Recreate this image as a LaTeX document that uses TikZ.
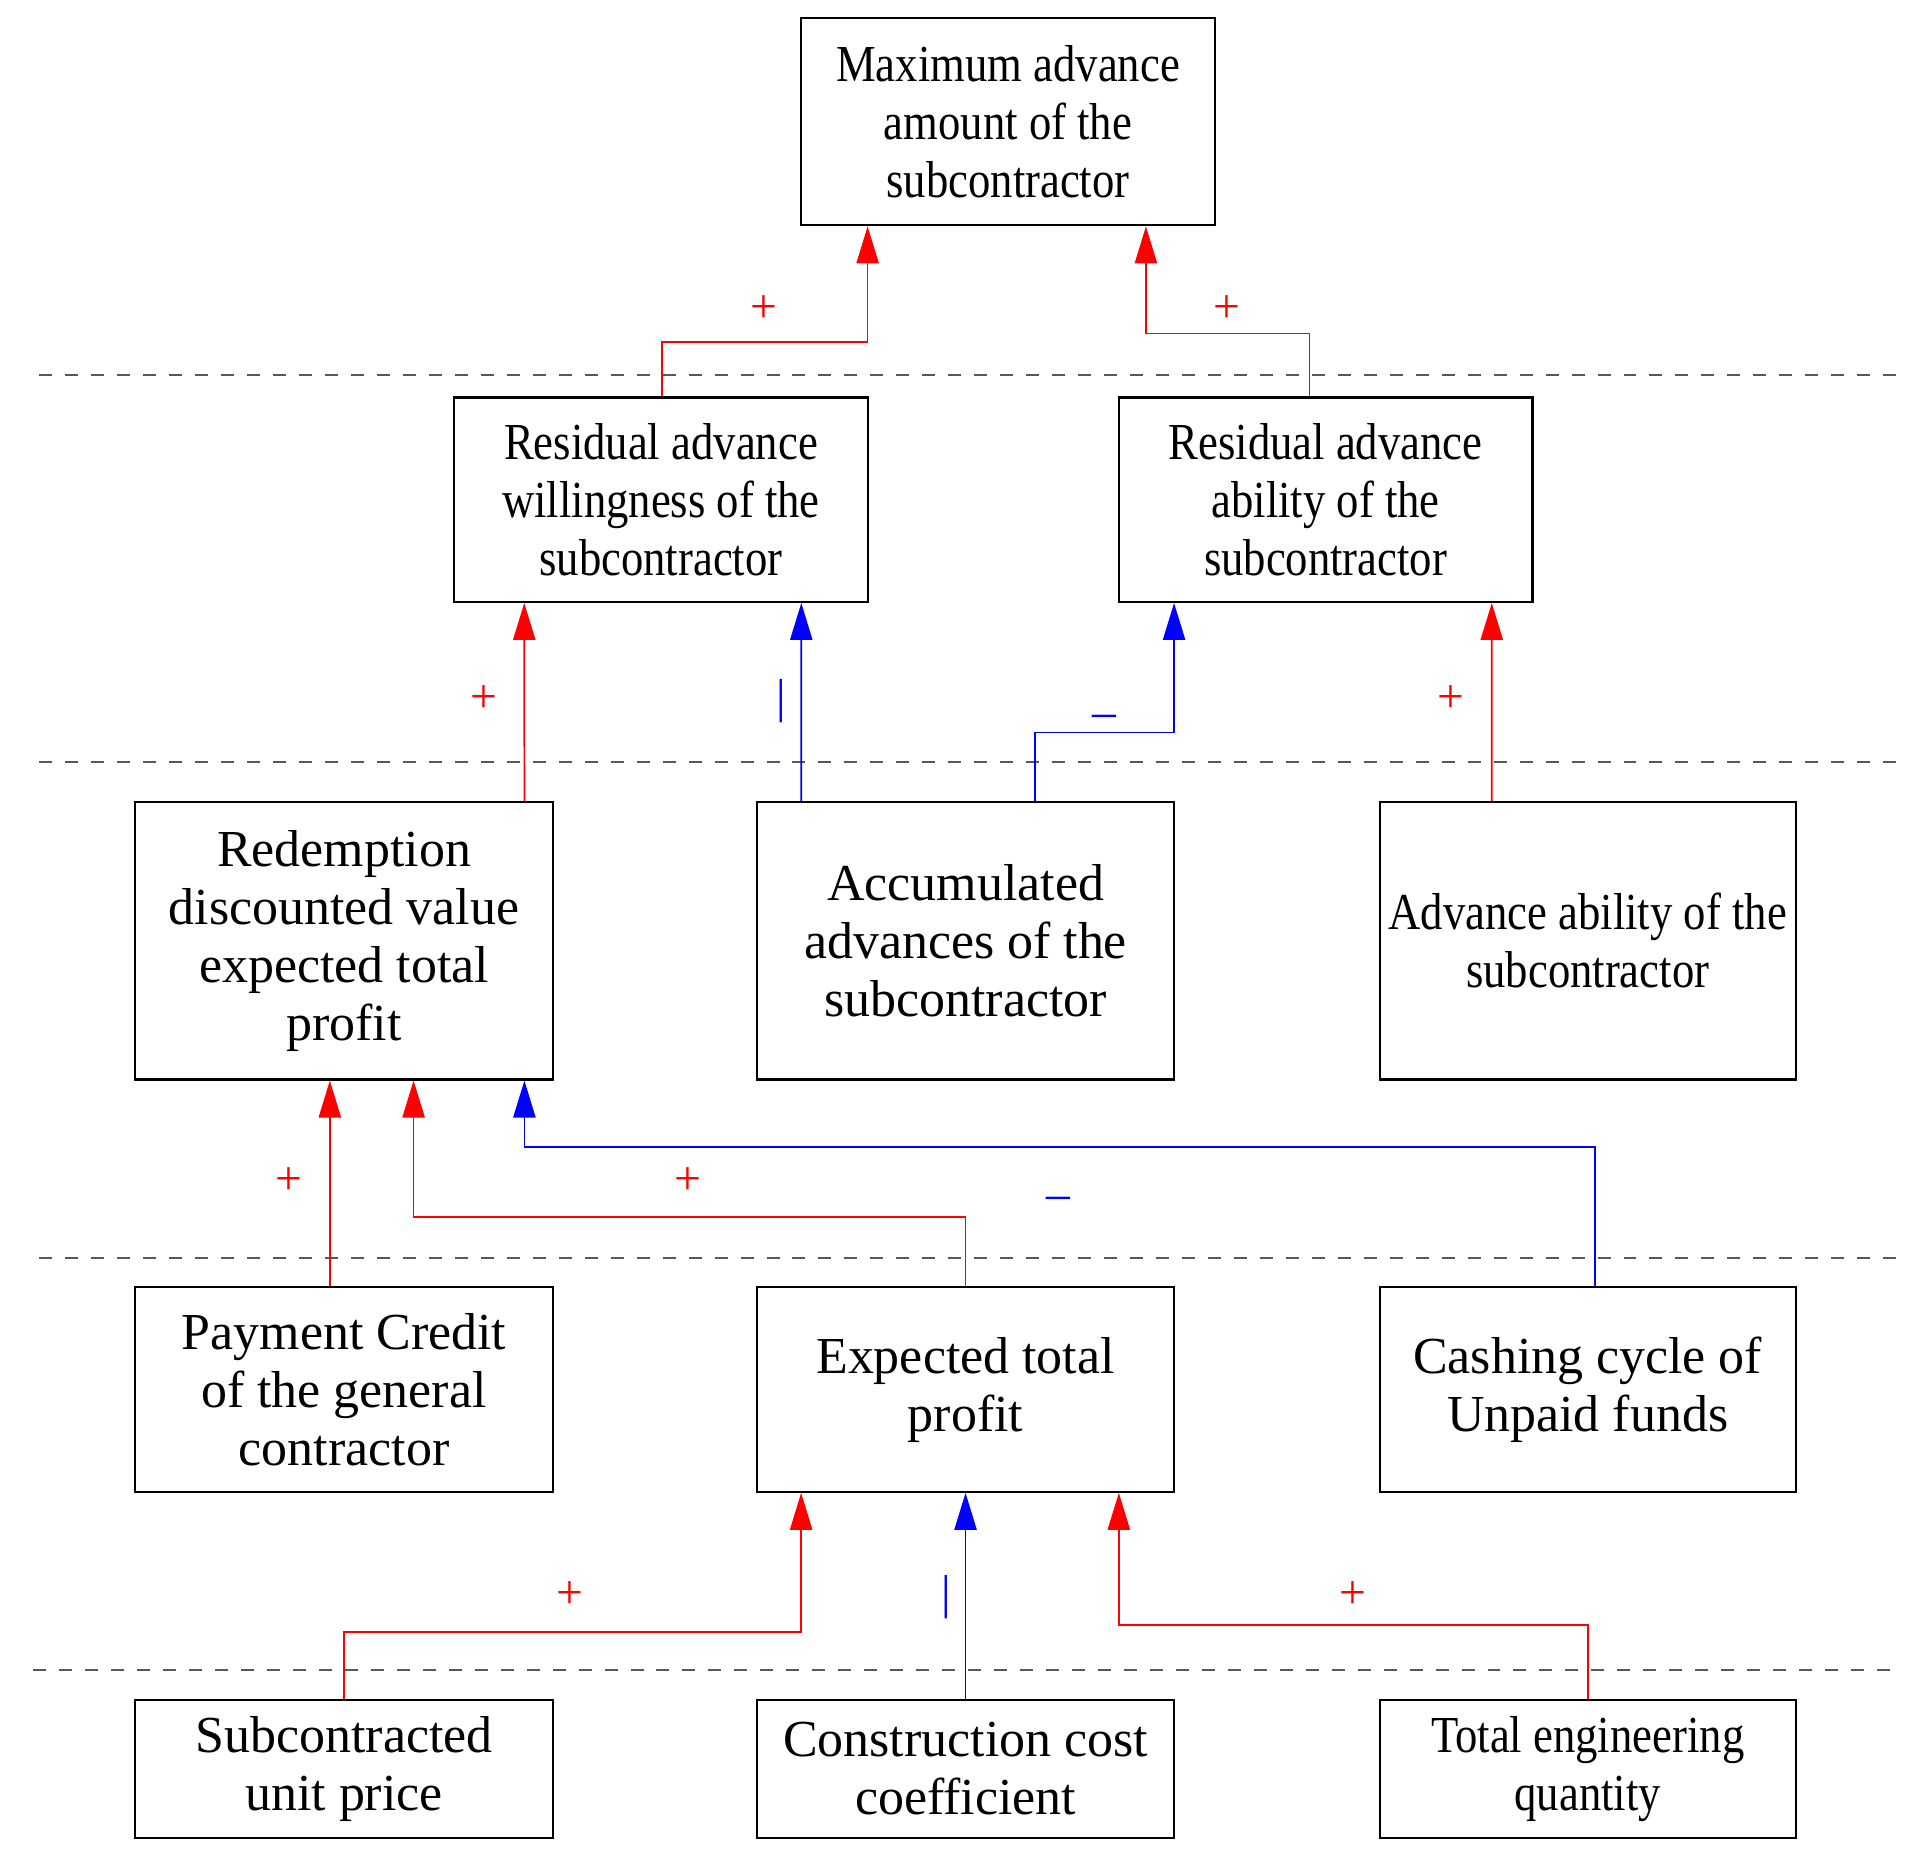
\documentclass[tikz,border=0pt]{standalone}
\usepackage{fontspec}
\setmainfont{Liberation Serif}
\newfontfamily\condf{Liberation Serif}[FakeStretch=0.86]
\usetikzlibrary{arrows.meta}
\begin{document}
\begin{tikzpicture}[x=0.01cm,y=-0.01cm,
  box/.style={draw,rectangle,align=center,inner sep=0pt,line width=0.5pt,font=\fontsize{12}{13.4}\selectfont},
  cbox/.style={box,font=\fontsize{12}{13.4}\condf},
  ar/.style={-{Triangle[length=0.3cm,width=0.18cm]},line width=0.4pt},
  rl/.style={ar,red},
  bl/.style={ar,blue},
  sg/.style={font=\fontsize{11}{12}\selectfont},
  dl/.style={dashed,gray!70!black,line width=0.5pt}]
\useasboundingbox (0,0) rectangle (1560,1509);
\draw[dl] (32,305) -- (1546,305);
\draw[dl] (32,619) -- (1546,619);
\draw[dl] (32,1022) -- (1546,1022);
\draw[dl] (27,1357) -- (1540,1357);

\node[cbox,minimum width=3.36cm,minimum height=1.68cm] (top) at (819,99) {Maximum advance\\amount of the\\subcontractor};
\node[cbox,minimum width=3.36cm,minimum height=1.66cm] (wil) at (537,406) {Residual advance\\willingness of the\\subcontractor};
\node[cbox,minimum width=3.36cm,minimum height=1.66cm] (abl) at (1077,406) {Residual advance\\ability of the\\subcontractor};
\node[box,minimum width=3.39cm,minimum height=2.25cm] (red) at (279.5,764.5) {Redemption\\discounted value\\expected total\\profit};
\node[box,minimum width=3.39cm,minimum height=2.25cm] (acc) at (784.5,764.5) {Accumulated\\advances of the\\subcontractor};
\node[cbox,minimum width=3.38cm,minimum height=2.25cm] (adv) at (1290,764.5) {Advance ability of the\\subcontractor};
\node[box,minimum width=3.39cm,minimum height=1.66cm] (pay) at (279.5,1129) {Payment Credit\\of the general\\contractor};
\node[box,minimum width=3.39cm,minimum height=1.66cm] (exp) at (784.5,1129) {Expected total\\profit};
\node[box,minimum width=3.38cm,minimum height=1.66cm] (cas) at (1290,1129) {Cashing cycle of\\Unpaid funds};
\node[box,minimum width=3.39cm,minimum height=1.12cm] (sub) at (279.5,1437) {Subcontracted\\unit price};
\node[box,minimum width=3.39cm,minimum height=1.12cm] (con) at (784.5,1437) {Construction cost\\coefficient};
\node[cbox,minimum width=3.38cm,minimum height=1.12cm] (tot) at (1290,1437) {Total engineering\\quantity};

\draw[rl] ([xshift=0.01cm]wil.north) -- ++(0,-44) -| ([xshift=-1.14cm]top.south);
\draw[rl] ([xshift=-0.13cm]abl.north) -- ++(0,-51) -| ([xshift=1.12cm]top.south);
\draw[rl] ([xshift=1.465cm]red.north) -- ([xshift=-1.11cm]wil.south);
\draw[bl] ([xshift=-1.335cm]acc.north) -- ([xshift=1.14cm]wil.south);
\draw[bl] ([xshift=0.565cm]acc.north) -- ++(0,-56) -| ([xshift=-1.23cm]abl.south);
\draw[rl] ([xshift=-0.78cm]adv.north) -- ([xshift=1.35cm]abl.south);
\draw[rl] ([xshift=-0.115cm]pay.north) -- ([xshift=-0.115cm]red.south);
\draw[rl] (exp.north) -- ++(0,-56) -| ([xshift=0.565cm]red.south);
\draw[bl] ([xshift=0.06cm]cas.north) -- ++(0,-113) -| ([xshift=1.465cm]red.south);
\draw[rl] (sub.north) -- ++(0,-54) -| ([xshift=-1.335cm]exp.south);
\draw[bl] (con.north) -- (exp.south);
\draw[rl] (tot.north) -- ++(0,-60) -| ([xshift=1.245cm]exp.south);

\node[sg,red] (p1) at (621,251) {+};
\node[sg,red] (p2) at (997,251) {+};
\node[sg,red] (p3) at (393,568) {+};
\node[sg,blue] (m1) at (635,570) {|};
\node[sg,blue] (m2) at (897,586) {\textendash};
\node[sg,red] (p4) at (1179,568) {+};
\node[sg,red] (p5) at (235,960) {+};
\node[sg,red] (p6) at (559,960) {+};
\node[sg,blue] (m3) at (860,978) {\textendash};
\node[sg,red] (p7) at (463,1296) {+};
\node[sg,blue] (m4) at (769,1298) {|};
\node[sg,red] (p8) at (1099,1296) {+};
\end{tikzpicture}
\end{document}
